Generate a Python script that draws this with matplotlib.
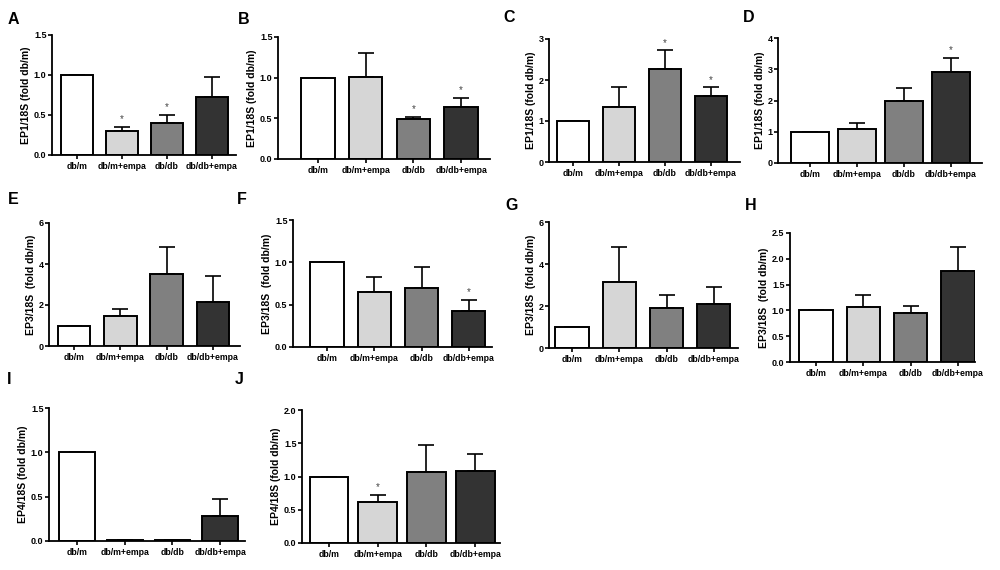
import numpy as np
import matplotlib
matplotlib.use("Agg")
import matplotlib.pyplot as plt

"""
Panel de barras EP1 / EP3 / EP4 normalizados a db/m
"""

grupos = ["db/m", "db/m+empa", "db/db", "db/db+empa"]
colores = ["#ffffff", "#d6d6d6", "#808080", "#333333"]

letras = ["A", "B", "C", "D", "E", "F", "G", "H", "I", "J"]

media_A = [1.0, 0.30, 0.40, 0.72]
error_A = [0.0, 0.055, 0.10, 0.25]
media_B = [1.0, 1.01, 0.49, 0.64]
error_B = [0.0, 0.29, 0.025, 0.11]
media_C = [1.0, 1.33, 2.28, 1.62]
error_C = [0.0, 0.50, 0.44, 0.20]
media_D = [1.0, 1.09, 1.99, 2.90]
error_D = [0.0, 0.20, 0.42, 0.46]
media_E = [1.0, 1.44, 3.49, 2.17]
error_E = [0.0, 0.38, 1.33, 1.26]
media_F = [1.0, 0.65, 0.70, 0.43]
error_F = [0.0, 0.18, 0.24, 0.13]
media_G = [1.0, 3.13, 1.91, 2.10]
error_G = [0.0, 1.70, 0.60, 0.82]
media_H = [1.0, 1.07, 0.95, 1.76]
error_H = [0.0, 0.22, 0.13, 0.47]
media_I = [1.0, 0.01, 0.01, 0.28]
error_I = [0.0, 0.0, 0.0, 0.19]
media_J = [1.0, 0.61, 1.07, 1.09]
error_J = [0.0, 0.11, 0.41, 0.25]

# asteriscos de significancia (indices de barra)
sig_A = [1, 2]
sig_B = [2, 3]
sig_C = [2, 3]
sig_D = [3]
sig_E = []
sig_F = [3]
sig_G = []
sig_H = []
sig_I = []
sig_J = [1]

ylab_EP1 = "EP1/18S (fold db/m)"
ylab_EP3 = "EP3/18S  (fold db/m)"
ylab_EP4 = "EP4/18S (fold db/m)"

ymax = [1.5, 1.5, 3, 4, 6, 1.5, 6, 2.5, 1.5, 2.0]
yticks = [[0, 0.5, 1.0, 1.5], [0, 0.5, 1.0, 1.5], [0, 1, 2, 3], [0, 1, 2, 3, 4],
          [0, 2, 4, 6], [0, 0.5, 1.0, 1.5], [0, 2, 4, 6],
          [0, 0.5, 1.0, 1.5, 2.0, 2.5], [0, 0.5, 1.0, 1.5], [0, 0.5, 1.0, 1.5, 2.0]]
ytick_fmt = ["%.1f", "%.1f", "%d", "%d", "%d", "%.1f", "%d", "%.1f", "%.1f", "%.1f"]

medias = [media_A, media_B, media_C, media_D, media_E, media_F, media_G, media_H, media_I, media_J]
errores = [error_A, error_B, error_C, error_D, error_E, error_F, error_G, error_H, error_I, error_J]
sigs = [sig_A, sig_B, sig_C, sig_D, sig_E, sig_F, sig_G, sig_H, sig_I, sig_J]
ylabs = [ylab_EP1] * 4 + [ylab_EP3] * 4 + [ylab_EP4] * 2

# layout en pixeles: x0, x1, ytop, ybot, centro primera barra, separacion, ancho relativo
cajas = [
    (52, 236, 35, 155, 77, 45.0, 0.69),
    (278, 490, 37, 159, 318, 47.7, 0.70),
    (549, 740, 39, 162, 573, 46.0, 0.68),
    (778, 982, 38, 163, 810, 47.0, 0.80),
    (49, 240, 223, 346, 74, 46.3, 0.70),
    (293, 492, 220, 347, 327, 47.3, 0.70),
    (549, 738, 222, 348, 572, 47.3, 0.70),
    (790, 975, 233, 362, 816, 47.3, 0.71),
    (49, 245, 408, 541, 77, 47.7, 0.75),
    (302, 500, 410, 543, 329, 48.7, 0.80),
]
pos_letras = [(8, 20), (238, 20), (503, 17), (743, 17), (8, 200), (237, 200),
              (505, 205), (745, 205), (7, 380), (235, 380)]

W, H = 1000, 570
plt.rcParams["font.family"] = ["Liberation Sans", "DejaVu Sans"]
plt.rcParams["font.weight"] = "bold"
fig = plt.figure(figsize=(W / 100, H / 100), dpi=100)

for i in range(10):
    x0, x1, yt, yb, c0, s, wr = cajas[i]
    ax = fig.add_axes([x0 / W, 1 - yb / H, (x1 - x0) / W, (yb - yt) / H])
    x = np.arange(4)
    err = np.array(errores[i])
    ax.bar(x, medias[i], width=wr, color=colores, edgecolor="black", linewidth=1.4, zorder=2)
    ax.errorbar(x, medias[i], yerr=[np.zeros(4), err], fmt="none", ecolor="black",
                elinewidth=1.2, capsize=6, capthick=1.2, zorder=1)
    for j in sigs[i]:
        ax.annotate("*", (j, medias[i][j] + err[j]), xytext=(0, 2), textcoords="offset points",
                    ha="center", va="bottom", fontsize=7, color="#444444", fontweight="normal")
    ax.set_xlim((x0 - c0) / s, (x1 - c0) / s)
    ax.set_ylim(0, ymax[i])
    ax.set_yticks(yticks[i])
    ax.set_yticklabels([ytick_fmt[i] % v for v in yticks[i]])
    ax.set_xticks(x)
    ax.set_xticklabels(grupos)
    ax.tick_params(axis="x", length=3, width=1.2, labelsize=6.3, pad=2)
    ax.tick_params(axis="y", length=3, width=1.2, labelsize=6.5, pad=1)
    ax.spines["top"].set_visible(False)
    ax.spines["right"].set_visible(False)
    ax.spines["left"].set_linewidth(1.3)
    ax.spines["bottom"].set_linewidth(1.3)
    ax.set_ylabel(ylabs[i], fontsize=7.5, fontweight="bold", labelpad=2)
    lx, ly = pos_letras[i]
    fig.text(lx / W, 1 - ly / H, letras[i], fontsize=11.5, fontweight="bold", va="center")

plt.savefig("out.png", dpi=100)
